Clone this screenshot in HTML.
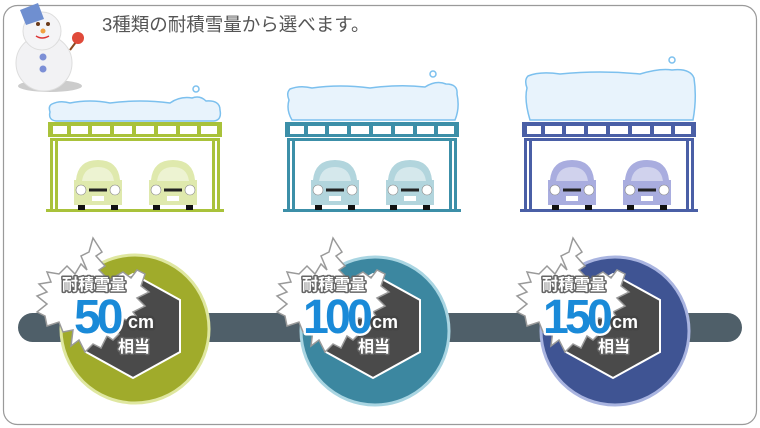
<!DOCTYPE html>
<html><head><meta charset="utf-8"><style>
html,body{margin:0;padding:0;background:#fff;width:760px;height:428px;overflow:hidden}
svg{display:block}
text{font-family:"Liberation Sans","Noto Sans CJK JP",sans-serif}
</style></head><body>
<svg width="760" height="428" viewBox="0 0 760 428" xmlns="http://www.w3.org/2000/svg">
<defs>
<g id="car">
<rect x="5" y="46" width="7" height="6" fill="#111"/><rect x="38" y="46" width="7" height="6" fill="#111"/>
<path d="M3,22 Q5,2 25,2 Q45,2 47,22 L49,22 L49,47 L1,47 L1,22 Z" fill="currentColor"/>
<path d="M9,23 Q11,9 25,9 Q39,9 41,23 Z" fill="#fff" opacity=".45"/>
<circle cx="8" cy="32" r="5" fill="#fff" stroke="#888" stroke-width=".6"/><circle cx="42" cy="32" r="5" fill="#fff" stroke="#888" stroke-width=".6"/>
<rect x="16" y="30.5" width="18" height="3" fill="#222"/>
<rect x="19" y="38" width="12" height="5" fill="#fff"/>
</g>
<g id="frame">
<rect x="0" y="0" width="174" height="15" fill="currentColor"/>
<g fill="#fff"><rect x="5" y="4" width="14" height="8"/><rect x="23" y="4" width="17" height="8"/><rect x="44" y="4" width="18" height="8"/><rect x="66" y="4" width="18" height="8"/><rect x="88" y="4" width="18" height="8"/><rect x="110" y="4" width="18" height="8"/><rect x="132" y="4" width="17" height="8"/><rect x="153" y="4" width="16" height="8"/></g>
<rect x="2" y="16" width="170" height="3" fill="currentColor"/>
<rect x="2" y="19" width="3" height="70" fill="currentColor"/><rect x="7" y="19" width="3" height="70" fill="currentColor"/>
<rect x="164" y="19" width="3" height="70" fill="currentColor"/><rect x="169" y="19" width="3" height="70" fill="currentColor"/>
<rect x="-2" y="87" width="178" height="3" fill="currentColor"/>
</g>
<g id="flake" fill="#fff" stroke="#9a9a9a" stroke-width="1.5" stroke-linejoin="miter">
<polygon points="0,-62 9,-48 3,-44 12,-34 6,-30 16,-20 30,-28 38,-22 44,-30 52,-26 48,-14 56,-8 44,-2 52,6 40,12 46,20 34,20 26,18 18,26 26,34 20,40 14,36 8,48 0,44 -8,52 -14,40 -22,46 -20,30 -30,32 -34,22 -46,26 -48,16 -56,12 -46,4 -56,-4 -46,-8 -54,-16 -42,-18 -46,-28 -34,-26 -26,-34 -18,-26 -12,-36 -6,-30 -12,-44 -4,-48"/>
</g>
</defs>
<rect x="3.5" y="5.5" width="753" height="419" rx="14" fill="#fff" stroke="#9a9a9a" stroke-width="1.2"/>
<!-- snowman -->
<ellipse cx="50" cy="86" rx="32" ry="6" fill="#aaa" opacity=".6"/>
<circle cx="44" cy="63" r="28" fill="#f2f2f4" stroke="#ddd"/>
<circle cx="42" cy="31" r="19" fill="#f4f4f6" stroke="#ddd"/>
<path d="M20,10 L38,3 L44,19 L26,25 Z" fill="#6f8fd0"/>
<circle cx="38" cy="24" r="2" fill="#6a3a1a"/><circle cx="48" cy="24" r="2" fill="#6a3a1a"/>
<circle cx="43" cy="31" r="2.5" fill="#f0a040"/>
<path d="M36,36 Q42,40 49,36" stroke="#d33" stroke-width="1.5" fill="none"/>
<circle cx="43" cy="57" r="3.5" fill="#7c8fd6"/><circle cx="43" cy="69" r="3.5" fill="#7c8fd6"/>
<line x1="70" y1="50" x2="76" y2="42" stroke="#8a4a20" stroke-width="2"/>
<circle cx="78" cy="38" r="6" fill="#e04a3a"/>
<text x="102" y="31" font-size="18.5" fill="#555">3種類の耐積雪量から選べます。</text>
<!-- snow & carports -->
<g fill="#e8f3fc" stroke="#7cc0ee" stroke-width="1.5">
<path d="M52,104 Q60,100 70,103 Q90,99 110,103 Q140,99 170,103 Q180,96 192,98 Q200,95 206,101 Q220,100 220,110 Q222,120 214,121 L56,121 Q48,120 50,112 Q48,106 52,104 Z"/>
<path d="M290,89 Q300,85 312,88 Q340,84 370,88 Q400,84 425,87 Q436,80 446,84 Q458,84 457,94 Q460,108 455,120 L292,120 Q286,110 289,100 Q286,93 290,89 Z"/>
<path d="M528,76 Q540,71 560,74 Q600,70 640,74 Q660,68 672,70 Q690,68 694,78 Q697,98 693,120 L530,120 Q524,100 527,88 Q524,80 528,76 Z"/>
<circle cx="196" cy="89" r="3" fill="#fff"/><circle cx="433" cy="74" r="3" fill="#fff"/><circle cx="672" cy="60" r="3" fill="#fff"/>
</g>
<use href="#frame" x="48" y="122" style="color:#a9c23a"/>
<use href="#frame" x="285" y="122" style="color:#3c8fa8"/>
<use href="#frame" x="522" y="122" style="color:#4a5fa6"/>
<use href="#car" x="73" y="158" style="color:#dfe9ad"/><use href="#car" x="148" y="158" style="color:#dfe9ad"/>
<use href="#car" x="310" y="158" style="color:#b2d5dd"/><use href="#car" x="385" y="158" style="color:#b2d5dd"/>
<use href="#car" x="547" y="158" style="color:#a9addf"/><use href="#car" x="622" y="158" style="color:#a9addf"/>
<!-- bar -->
<rect x="18" y="313" width="724" height="29" rx="14.5" fill="#4f5f69"/>
<circle cx="135" cy="329" r="74" fill="#a0ab2b" stroke="#dfe7a0" stroke-width="3"/>
<circle cx="375" cy="331" r="74" fill="#3c87a0" stroke="#a9d5e2" stroke-width="3"/>
<circle cx="615" cy="331" r="74" fill="#3f5493" stroke="#a9b4e0" stroke-width="3"/>
<g fill="#4a4a4a" stroke="#fff" stroke-width="2">
<polygon points="133,274 180,300 180,352 133,378 86,352 86,300"/>
<polygon points="373,274 420,300 420,352 373,378 326,352 326,300"/>
<polygon points="613,274 660,300 660,352 613,378 566,352 566,300"/>
</g>
<use href="#flake" x="93" y="300"/><use href="#flake" x="333" y="300"/><use href="#flake" x="573" y="300"/>
<g font-weight="bold" stroke-linejoin="round" paint-order="stroke">
<g font-size="16" fill="#fff" stroke="#666" stroke-width="3">
<text x="62" y="290">耐積雪量</text><text x="302" y="290">耐積雪量</text><text x="542" y="290">耐積雪量</text>
<text x="118" y="352">相当</text><text x="358" y="352">相当</text><text x="598" y="352">相当</text>
</g>
<g font-size="48" fill="#1a8ad8" stroke="#fff" stroke-width="5" letter-spacing="-4">
<text x="74" y="333">50</text><text x="303" y="333" textLength="66" lengthAdjust="spacingAndGlyphs">100</text><text x="543" y="333" textLength="66" lengthAdjust="spacingAndGlyphs">150</text>
</g>
<g font-size="18" fill="#fff" stroke="#444" stroke-width="5">
<text x="128" y="328">cm</text><text x="372" y="328">cm</text><text x="612" y="328">cm</text>
</g>
</g>
</svg>
</body></html>
